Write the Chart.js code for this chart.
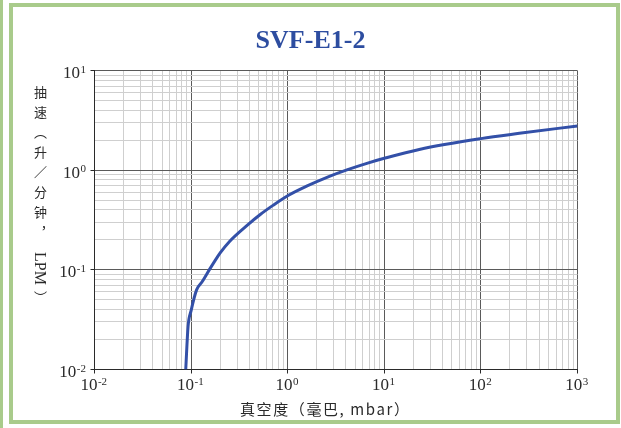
<!DOCTYPE html>
<html>
<head>
<meta charset="utf-8">
<title>SVF-E1-2</title>
<script src="https://cdn.jsdelivr.net/npm/chart.js@4.4.0/dist/chart.umd.min.js"></script>
<style>
    html, body { margin: 0; padding: 0; background: #fff; }
    #wrap { position: relative; width: 621px; height: 428px; overflow: hidden; background: #fff; }
    #strip { position: absolute; left: 0; top: 0; width: 3px; height: 428px; background: #a9cb8b; }
    #frame { position: absolute; left: 9px; top: 3px; width: 611px; height: 421px; box-sizing: border-box; border: 4px solid #a9cb8b; }
    #chart { position: absolute; left: 0; top: 0; }
    #ytitle {
        position: absolute; left: 32px; top: 86px;
        writing-mode: vertical-rl; text-orientation: mixed;
        font-family: "Noto Sans CJK SC", sans-serif; font-size: 13px;
        letter-spacing: 7px; color: #2a2a2a; line-height: 1;
    }
    #ytitle .lat { letter-spacing: 0; font-family: "Liberation Serif", serif; font-size: 16px; margin: 6px 0 6px 0; }
    #xtitle {
        position: absolute; left: 240px; top: 401px;
        font-family: "Noto Sans CJK SC", sans-serif; font-size: 15px;
        letter-spacing: 1.6px; color: #2a2a2a; line-height: 1; white-space: nowrap;
    }
</style>
</head>
<body>
<div id="wrap">
    <div id="strip"></div>
    <div id="frame"></div>
    <canvas id="chart" width="621" height="428"></canvas>
    <div id="ytitle">抽速（升／分钟，<span class="lat">LPM</span>）</div>
    <div id="xtitle">真空度（毫巴, mbar）</div>
</div>
<script>
// pumping speed curve
const pressure = [0.088, 0.093, 0.1, 0.114, 0.13, 0.157, 0.177, 0.2, 0.25, 0.38, 0.52, 0.71, 1.0, 1.57, 2.7, 4.1, 6.6, 10, 23, 100, 250, 1000];
const speed = [0.01, 0.027, 0.039, 0.063, 0.076, 0.103, 0.124, 0.148, 0.193, 0.28, 0.36, 0.447, 0.555, 0.692, 0.869, 1.01, 1.175, 1.32, 1.62, 2.08, 2.35, 2.79];

// axis decades; tick labels are "10" with the exponent raised
const xDecades = [-2, -1, 0, 1, 2, 3];
const xTickExps = ['-2', '-1', '0', '1', '2', '3'];
const yDecades = [-2, -1, 0, 1];
const yTickExps = ['-2', '-1', '0', '1'];

const colors = {
    line: '#3350a8',
    title: '#2d4da0',
    major: '#5a5a5a',
    minor: '#cfcfcf',
    text: '#2a2a2a'
};

const serif = '"Liberation Serif", "DejaVu Serif", serif';
const baseFont = '17px ' + serif;
const expFont = '11px ' + serif;

const isDecade = v => Math.abs(Math.log10(v) - Math.round(Math.log10(v))) < 1e-9;

// 1..9 x 10^e ticks for each decade
function logTicks(decades) {
    const ticks = [];
    for (let i = 0; i < decades.length - 1; i++) {
        for (let k = 1; k <= 9; k++) {
            ticks.push({ value: parseFloat((k * Math.pow(10, decades[i])).toPrecision(3)) });
        }
    }
    ticks.push({ value: Math.pow(10, decades[decades.length - 1]) });
    return ticks;
}

// draws 10^n labels at the decade positions of both log axes
const powerLabels = {
    id: 'powerLabels',
    afterDraw(chart) {
        const ctx = chart.ctx;
        const xs = chart.scales.x, ys = chart.scales.y;
        ctx.save();
        ctx.fillStyle = colors.text;
        ctx.textBaseline = 'alphabetic';
        ctx.textAlign = 'left';

        const measure = (exp) => {
            ctx.font = baseFont;
            const wb = ctx.measureText('10').width;
            ctx.font = expFont;
            const we = ctx.measureText(exp).width;
            return [wb, we];
        };
        const draw = (exp, left, baseline) => {
            const [wb] = measure(exp);
            ctx.font = baseFont;
            ctx.fillText('10', left, baseline);
            ctx.font = expFont;
            ctx.fillText(exp, left + wb + 0.5, baseline - 5.5);
        };

        xDecades.forEach((d, i) => {
            const px = xs.getPixelForValue(Math.pow(10, d));
            const [wb, we] = measure(xTickExps[i]);
            draw(xTickExps[i], px - (wb + we) / 2 - 1, xs.top + 20.5);
        });
        yDecades.forEach((d, i) => {
            const py = ys.getPixelForValue(Math.pow(10, d));
            const [wb, we] = measure(yTickExps[i]);
            draw(yTickExps[i], ys.right - 8.6 - (wb + we + 0.5), py + 7.5);
        });
        ctx.restore();
    }
};

const gridStyle = {
    color: c => (c.tick && isDecade(c.tick.value)) ? colors.major : colors.minor,
    tickColor: c => (c.tick && isDecade(c.tick.value)) ? colors.text : 'rgba(0,0,0,0)',
    lineWidth: 1,
    tickLength: 4,
    drawTicks: true
};

new Chart(document.getElementById('chart'), {
    type: 'line',
    data: {
        datasets: [{
            data: pressure.map((p, i) => ({ x: p, y: speed[i] })),
            borderColor: colors.line,
            borderWidth: 3,
            pointRadius: 0,
            cubicInterpolationMode: 'monotone',
            fill: false
        }]
    },
    options: {
        responsive: false,
        animation: false,
        devicePixelRatio: 1,
        layout: { padding: 0 },
        plugins: {
            legend: { display: false },
            tooltip: { enabled: false },
            title: {
                display: true,
                text: 'SVF-E1-2',
                color: colors.title,
                font: { family: serif, size: 26, weight: 'bold', lineHeight: 1.2 },
                padding: { top: 25.5, bottom: 14 }
            }
        },
        scales: {
            x: {
                type: 'logarithmic',
                min: Math.pow(10, xDecades[0]),
                max: Math.pow(10, xDecades[xDecades.length - 1]),
                afterBuildTicks: s => { s.ticks = logTicks(xDecades); },
                afterFit: s => { s.height = 58.5; },
                grid: gridStyle,
                border: { color: colors.text, width: 1 },
                ticks: { autoSkip: false, display: false }
            },
            y: {
                type: 'logarithmic',
                min: Math.pow(10, yDecades[0]),
                max: Math.pow(10, yDecades[yDecades.length - 1]),
                afterBuildTicks: s => { s.ticks = logTicks(yDecades); },
                afterFit: s => { s.width = 94.5; },
                grid: gridStyle,
                border: { color: colors.text, width: 1 },
                ticks: { autoSkip: false, display: false }
            },
            // empty right-hand axis, only reserves the right margin
            yRight: {
                type: 'linear',
                position: 'right',
                min: 0, max: 1,
                grid: { display: false },
                border: { display: false },
                ticks: { display: false },
                afterFit: s => { s.width = 43.5; }
            }
        }
    },
    plugins: [powerLabels]
});
</script>
</body>
</html>
